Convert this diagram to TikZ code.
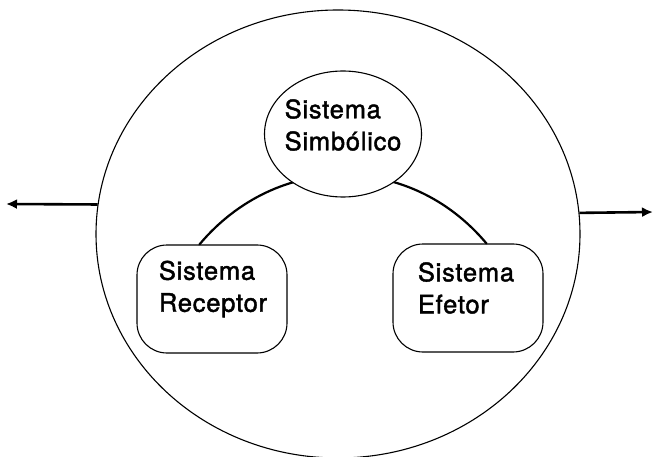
\documentclass[tikz,border=0pt]{standalone}
\usepackage{fontspec}
\setmainfont{TeX Gyre Heros}
\usetikzlibrary{shapes.geometric,arrows.meta,calc}
\begin{document}
\begin{tikzpicture}[x=1pt,y=-1pt,
  outline/.style={draw=black,line width=1.1pt},
  bigshape/.style={outline,ellipse,inner sep=0pt,minimum width=484pt,minimum height=448pt},
  symb/.style={outline,ellipse,fill=white,inner sep=0pt,minimum width=157pt,minimum height=126pt},
  sysbox/.style={outline,rounded corners=30pt,fill=white,inner sep=0pt,minimum width=150pt,minimum height=108pt},
  label/.style={align=left,inner sep=0pt,font=\fontsize{25.5}{32}\selectfont\addfontfeature{LetterSpace=3,FakeBold=1.6}},
  link/.style={line width=2.2pt,line cap=round},
  arr/.style={line width=2.6pt,-{Latex[length=11pt,width=10pt]}}]
\useasboundingbox (0,0) rectangle (653,457);
\node[bigshape] (B) at (338,234) {};
\coordinate (la) at (6,204);
\coordinate (ra) at (653,212);
\draw[arr] (B.173) -- (la);
\draw[arr] (B.5.3) -- (ra);
\node[sysbox] (L) at (212,299) {};
\node[sysbox] (R) at (468,298) {};
\draw[link] ($(L.north west)+(63,0)$) .. controls +(-50:120) and +(-130:120) .. ($(R.north west)+(94,0)$);
\node[symb] (S) at (343,134) {};
\node[label] (St) at (343,125) {Sistema\\Simbólico};
\node[label] (Lt) at (213,289) {Sistema\\Receptor};
\node[label] (Rt) at (466,288) {Sistema\\Efetor};
\end{tikzpicture}
\end{document}
